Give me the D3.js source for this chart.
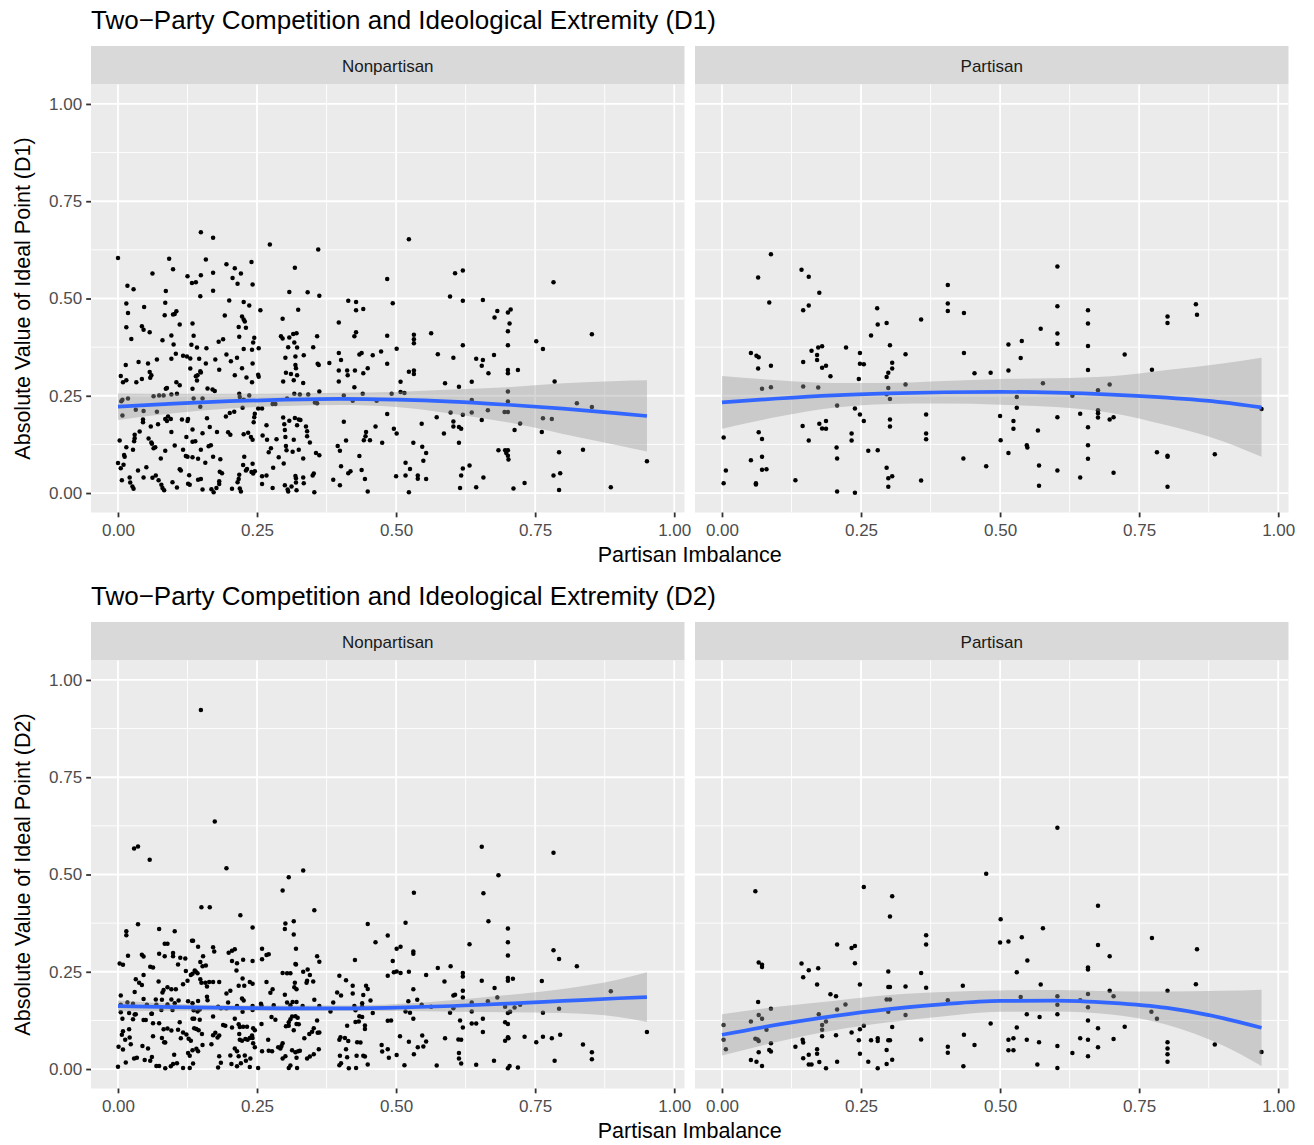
<!DOCTYPE html>
<html>
<head>
<meta charset="utf-8">
<script src="https://cdn.jsdelivr.net/npm/d3@7"></script>
<style>
  body { margin: 0; background: #fff; }
  text { font-family: "Liberation Sans", Arial, sans-serif; }
</style>
</head>
<body>
<svg id="chart" width="1314" height="1145"></svg>
<script>
// DATA: [partisan imbalance, |ideal point|]

const facetNames = ["Nonpartisan", "Partisan"];
const xTicks = [0, 0.25, 0.5, 0.75, 1];
const yTicks = [0, 0.25, 0.5, 0.75, 1];

const d1Nonpartisan = [
  [0.149,0.670],[0.171,0.656],[0.273,0.639],[0.360,0.626],[0,0.604],[0.092,0.602],[0.158,0.600],[0.240,0.594],
  [0.195,0.588],[0.210,0.578],[0.318,0.579],[0.062,0.564],[0.099,0.575],[0.125,0.557],[0.149,0.560],[0.171,0.566],
  [0.206,0.553],[0.221,0.564],[0.133,0.540],[0.140,0.542],[0.215,0.538],[0.242,0.536],[0.484,0.550],[0.017,0.533],
  [0.028,0.524],[0.086,0.519],[0.171,0.520],[0.148,0.506],[0.308,0.517],[0.341,0.516],[0.362,0.507],[0.200,0.495],
  [0.226,0.491],[0.236,0.482],[0.414,0.494],[0.428,0.491],[0.428,0.470],[0.441,0.473],[0.015,0.487],[0.085,0.489],
  [0.047,0.478],[0.018,0.463],[0.099,0.459],[0.105,0.467],[0.102,0.460],[0.084,0.457],[0.256,0.470],[0.324,0.471],
  [0.192,0.456],[0.223,0.454],[0.226,0.446],[0.228,0.441],[0.296,0.448],[0.397,0.438],[0.015,0.426],[0.043,0.429],
  [0.046,0.420],[0.057,0.413],[0.111,0.433],[0.134,0.436],[0.217,0.427],[0.230,0.425],[0.024,0.396],[0.080,0.393],
  [0.096,0.405],[0.136,0.404],[0.181,0.389],[0.189,0.395],[0.218,0.402],[0.245,0.399],[0.243,0.387],[0.293,0.403],
  [0.296,0.397],[0.308,0.400],[0.315,0.409],[0.321,0.411],[0.317,0.387],[0.358,0.403],[0.428,0.413],[0.425,0.403],
  [0.484,0.404],[0.100,0.382],[0.132,0.381],[0.142,0.374],[0.159,0.372],[0.226,0.370],[0.241,0.368],[0.253,0.372],
  [0.306,0.375],[0.322,0.374],[0.351,0.375],[0.397,0.360],[0.401,0.342],[0.434,0.356],[0.438,0.360],[0.458,0.354],
  [0.473,0.364],[0.014,0.329],[0.037,0.337],[0.054,0.333],[0.070,0.343],[0.096,0.345],[0.104,0.358],[0.117,0.353],
  [0.124,0.351],[0.130,0.346],[0.146,0.345],[0.158,0.333],[0.175,0.343],[0.195,0.356],[0.203,0.339],[0.214,0.348],
  [0.223,0.321],[0.242,0.333],[0.301,0.348],[0.319,0.351],[0.319,0.329],[0.320,0.321],[0.334,0.354],[0.359,0.332],
  [0.361,0.329],[0.380,0.334],[0.449,0.321],[0.484,0.332],[0.005,0.301],[0.009,0.285],[0.015,0.290],[0.033,0.285],
  [0.043,0.293],[0.057,0.311],[0.058,0.296],[0.060,0.303],[0.105,0.285],[0.111,0.277],[0.130,0.320],[0.140,0.300],
  [0.143,0.303],[0.148,0.313],[0.149,0.310],[0.142,0.289],[0.182,0.317],[0.210,0.303],[0.231,0.297],[0.241,0.285],
  [0.252,0.304],[0.253,0.299],[0.297,0.287],[0.302,0.309],[0.311,0.306],[0.316,0.290],[0.322,0.303],[0.333,0.283],
  [0.397,0.315],[0.397,0.287],[0.412,0.315],[0.413,0.303],[0.426,0.315],[0.425,0.272],[0.441,0.308],
  [0.006,0.236],[0.008,0.240],[0.018,0.243],[0.064,0.249],[0.074,0.251],[0.082,0.251],[0.086,0.268],[0.088,0.270],
  [0.096,0.253],[0.106,0.255],[0.134,0.268],[0.136,0.243],[0.152,0.243],[0.161,0.269],[0.170,0.266],[0.174,0.262],
  [0.218,0.255],[0.219,0.247],[0.226,0.240],[0.236,0.251],[0.278,0.229],[0.283,0.229],[0.304,0.243],[0.317,0.255],
  [0.327,0.253],[0.342,0.253],[0.354,0.233],[0.358,0.231],[0.362,0.261],[0.406,0.251],[0.422,0.237],[0.440,0.255],
  [0.465,0.237],[0.032,0.214],[0.046,0.211],[0.008,0.199],[0.070,0.209],[0.148,0.222],[0.224,0.219],[0.252,0.217],
  [0.259,0.217],[0.484,0.203],
  [0.003,0.135],[0.000,0.077],[0.005,0.064],[0.010,0.073],[0.011,0.098],[0.012,0.093],[0.015,0.118],[0.007,0.033],
  [0.021,0.040],[0.022,0.027],[0.026,0.017],[0.028,0.011],[0.029,0.133],[0.027,0.111],[0.030,0.150],[0.030,0.141],
  [0.036,0.058],[0.039,0.158],[0.045,0.189],[0.045,0.182],[0.046,0.040],[0.051,0.066],[0.059,0.171],[0.055,0.140],
  [0.060,0.130],[0.061,0.127],[0.064,0.115],[0.067,0.118],[0.062,0.039],[0.068,0.045],[0.073,0.033],[0.072,0.177],
  [0.077,0.089],[0.080,0.013],[0.083,0.007],[0.078,0.021],[0.085,0.190],[0.088,0.185],[0.085,0.109],[0.090,0.197],
  [0.095,0.190],[0.096,0.157],[0.098,0.028],[0.102,0.122],[0.106,0.014],[0.111,0.061],[0.113,0.058],[0.115,0.189],
  [0.117,0.111],[0.123,0.144],[0.122,0.095],[0.125,0.185],[0.126,0.190],[0.125,0.093],[0.126,0.024],[0.128,0.046],
  [0.129,0.021],[0.134,0.132],[0.134,0.163],[0.134,0.092],[0.139,0.133],[0.144,0.088],[0.144,0.034],[0.149,0.036],
  [0.152,0.009],[0.149,0.111],[0.152,0.154],[0.157,0.078],[0.160,0.192],[0.163,0.120],[0.167,0.123],[0.165,0.170],
  [0.171,0.093],[0.172,0.002],[0.178,0.157],[0.183,0.055],[0.184,0.087],[0.187,0.051],[0.182,0.023],[0.182,0.030],
  [0.168,0.010],[0.177,0.013],[0.194,0.197],[0.198,0.156],[0.201,0.206],[0.202,0.150],[0.205,0.011],[0.209,0.209],
  [0.215,0.028],[0.217,0.036],[0.218,0.047],[0.221,0.004],[0.219,0.012],[0.225,0.072],[0.226,0.151],[0.227,0.093],
  [0.230,0.058],[0.232,0.062],[0.234,0.155],[0.239,0.144],[0.242,0.137],[0.244,0.182],[0.245,0.195],[0.246,0.204],
  [0.242,0.075],[0.240,0.054],[0.243,0.050],[0.246,0.056],[0.259,0.023],[0.259,0.043],[0.260,0.148],[0.267,0.174],
  [0.268,0.137],[0.267,0.045],[0.271,0.105],[0.275,0.115],[0.279,0.065],[0.278,0.013],[0.285,0.138],[0.289,0.092],
  [0.297,0.194],[0.298,0.076],[0.299,0.177],[0.300,0.162],[0.301,0.144],[0.302,0.121],[0.303,0.110],[0.300,0.020],
  [0.305,0.009],[0.306,0.004],[0.308,0.186],[0.312,0.017],[0.314,0.106],[0.316,0.137],[0.318,0.193],[0.319,0.044],
  [0.320,0.038],[0.320,0.027],[0.321,0.007],[0.322,0.174],[0.325,0.189],[0.328,0.188],[0.325,0.111],[0.333,0.089],
  [0.333,0.040],[0.334,0.025],[0.338,0.171],[0.340,0.159],[0.340,0.146],[0.345,0.130],[0.350,0.045],[0.352,0.050],
  [0.353,0.002],[0.356,0.103],[0.362,0.097],[0.387,0.034],[0.395,0.121],[0.399,0.109],[0.401,0.069],[0.406,0.183],
  [0.410,0.135],[0.399,0.020],[0.414,0.051],[0.418,0.056],[0.434,0.095],[0.438,0.059],[0.442,0.136],[0.444,0.036],
  [0.445,0.146],[0.446,0.157],[0.449,0.004],[0.453,0.136],[0.463,0.171],[0.475,0.129],
  [0.523,0.652],[0.494,0.488],[0.501,0.371],[0.532,0.407],[0.532,0.395],[0.532,0.385],[0.563,0.411],[0.523,0.312],
  [0.532,0.315],[0.532,0.306],[0.508,0.286],[0.575,0.357],[0.603,0.348],[0.588,0.282],[0.613,0.273],[0.597,0.505],
  [0.606,0.565],[0.620,0.572],[0.620,0.494],[0.656,0.496],[0.620,0.380],[0.636,0.286],[0.644,0.345],[0.656,0.342],
  [0.654,0.327],[0.666,0.308],[0.676,0.355],[0.677,0.451],[0.682,0.468],[0.701,0.464],[0.706,0.472],[0.704,0.436],
  [0.701,0.416],[0.701,0.380],[0.701,0.316],[0.701,0.308],[0.719,0.316],[0.701,0.261],[0.752,0.390],[0.764,0.370],
  [0.783,0.542],[0.785,0.287],[0.852,0.408],[0.492,0.255],[0.508,0.260],[0.515,0.257],[0.636,0.239],[0.701,0.235],
  [0.665,0.213],[0.695,0.208],[0.701,0.208],[0.825,0.231],[0.852,0.221],
  [0.496,0.165],[0.501,0.153],[0.531,0.129],[0.546,0.178],[0.573,0.195],[0.598,0.207],[0.603,0.184],[0.603,0.171],
  [0.613,0.170],[0.617,0.165],[0.620,0.201],[0.586,0.153],[0.636,0.207],[0.654,0.188],[0.613,0.129],[0.547,0.119],
  [0.554,0.103],[0.549,0.083],[0.517,0.078],[0.525,0.062],[0.500,0.043],[0.517,0.045],[0.539,0.045],[0.539,0.037],
  [0.554,0.036],[0.523,0.002],[0.620,0.063],[0.632,0.071],[0.617,0.045],[0.615,0.013],[0.644,0.015],[0.657,0.040],
  [0.684,0.110],[0.696,0.110],[0.701,0.110],[0.698,0.103],[0.701,0.096],[0.702,0.086],[0.711,0.012],[0.731,0.026],
  [0.713,0.162],[0.723,0.179],[0.764,0.192],[0.780,0.190],[0.762,0.157],[0.793,0.105],[0.783,0.045],[0.795,0.051],
  [0.793,0.008],[0.836,0.111],[0.886,0.015],[0.951,0.082]
];

const d1Partisan = [
  [0.088,0.614],[0.065,0.554],[0.085,0.490],[0.143,0.574],[0.156,0.556],[0.175,0.515],[0.146,0.470],[0.156,0.482],
  [0.052,0.360],[0.062,0.353],[0.066,0.349],[0.065,0.320],[0.088,0.327],[0.072,0.268],[0.088,0.272],[0.146,0.337],
  [0.161,0.366],[0.171,0.355],[0.171,0.342],[0.173,0.374],[0.180,0.377],[0.180,0.322],[0.187,0.327],[0.195,0.300],
  [0.146,0.274],[0.173,0.271],[0.223,0.374],[0.248,0.360],[0.248,0.332],[0.255,0.331],[0.246,0.293],[0.268,0.405],
  [0.279,0.475],[0.280,0.433],[0.296,0.437],[0.302,0.380],[0.306,0.335],[0.306,0.320],[0.299,0.309],[0.296,0.298],
  [0.299,0.270],[0.296,0.254],[0.302,0.242],[0.330,0.357],[0.330,0.279],[0.358,0.446],[0.406,0.535],[0.406,0.487],
  [0.406,0.468],[0.435,0.463],[0.435,0.360],[0.454,0.308],[0.483,0.309],[0.515,0.382],[0.515,0.315],[0.539,0.391],
  [0.537,0.347],[0.573,0.422],[0.577,0.282],[0.603,0.582],[0.603,0.480],[0.603,0.410],[0.603,0.384],[0.630,0.250],
  [0.658,0.470],[0.658,0.436],[0.658,0.378],[0.658,0.316],[0.676,0.264],[0.697,0.279],[0.724,0.356],[0.773,0.317],
  [0.801,0.454],[0.801,0.437],[0.852,0.485],[0.854,0.458],[0.970,0.216],[0.530,0.247],
  [0.003,0.143],[0.007,0.058],[0.003,0.025],[0.066,0.156],[0.072,0.139],[0.052,0.084],[0.072,0.093],[0.072,0.060],
  [0.080,0.061],[0.061,0.025],[0.061,0.022],[0.132,0.033],[0.145,0.172],[0.156,0.135],[0.175,0.178],[0.180,0.166],
  [0.187,0.165],[0.187,0.185],[0.207,0.225],[0.206,0.117],[0.207,0.089],[0.207,0.004],[0.233,0.153],[0.233,0.135],
  [0.239,0.217],[0.248,0.202],[0.255,0.185],[0.239,0.001],[0.263,0.109],[0.280,0.110],[0.296,0.065],[0.299,0.038],
  [0.306,0.043],[0.299,0.016],[0.302,0.189],[0.302,0.171],[0.367,0.202],[0.367,0.153],[0.367,0.138],[0.358,0.032],
  [0.434,0.089],[0.475,0.069],[0.500,0.198],[0.501,0.136],[0.515,0.103],[0.524,0.185],[0.524,0.165],[0.530,0.219],
  [0.548,0.123],[0.549,0.117],[0.568,0.161],[0.570,0.071],[0.570,0.019],[0.603,0.195],[0.603,0.058],[0.644,0.204],
  [0.644,0.040],[0.658,0.169],[0.658,0.123],[0.658,0.088],[0.676,0.213],[0.676,0.205],[0.676,0.194],[0.697,0.189],
  [0.704,0.195],[0.704,0.052],[0.782,0.105],[0.801,0.096],[0.801,0.093],[0.801,0.016],[0.886,0.100]
];

const d2Nonpartisan = [
  [0.149,0.923],[0.174,0.636],[0.029,0.567],[0.036,0.572],[0.057,0.538],[0.195,0.516],[0.150,0.416],[0.165,0.416],
  [0.220,0.395],[0.242,0.364],[0.296,0.459],[0.307,0.493],[0.333,0.510],[0.353,0.408],[0.301,0.374],[0.316,0.380],
  [0.300,0.360],[0.316,0.346],[0.449,0.373],[0.463,0.326],[0.485,0.343],[0.015,0.354],[0.015,0.344],[0.036,0.372],
  [0.074,0.360],[0.102,0.354],[0.084,0.322],[0.089,0.322],[0.133,0.330],[0.135,0.330],[0.144,0.314],[0.171,0.313],
  [0.173,0.302],[0.018,0.291],[0.043,0.294],[0.046,0.289],[0.003,0.271],[0.009,0.268],[0.074,0.296],[0.084,0.290],
  [0.099,0.298],[0.099,0.290],[0.112,0.286],[0.121,0.284],[0.108,0.269],[0.058,0.263],[0.063,0.261],[0.153,0.290],
  [0.158,0.266],[0.138,0.253],[0.143,0.246],[0.122,0.252],[0.199,0.299],[0.205,0.304],[0.210,0.308],[0.205,0.278],
  [0.214,0.272],[0.225,0.281],[0.242,0.278],[0.213,0.253],[0.259,0.309],[0.259,0.282],[0.267,0.293],[0.271,0.295],
  [0.320,0.309],[0.320,0.269],[0.358,0.290],[0.362,0.276],[0.426,0.280],[0.032,0.231],[0.038,0.222],[0.043,0.216],
  [0.046,0.242],[0.030,0.198],[0.073,0.225],[0.080,0.197],[0.082,0.203],[0.089,0.210],[0.096,0.205],[0.104,0.205],
  [0.131,0.242],[0.134,0.245],[0.140,0.250],[0.148,0.275],[0.152,0.264],[0.125,0.227],[0.148,0.231],[0.150,0.222],
  [0.157,0.222],[0.160,0.212],[0.164,0.224],[0.171,0.224],[0.182,0.224],[0.160,0.186],[0.161,0.177],[0.117,0.218],
  [0.096,0.179],[0.109,0.176],[0.195,0.194],[0.202,0.201],[0.224,0.233],[0.227,0.214],[0.217,0.214],[0.237,0.224],
  [0.242,0.219],[0.223,0.181],[0.226,0.176],[0.267,0.224],[0.274,0.196],[0.278,0.205],[0.296,0.247],[0.304,0.246],
  [0.310,0.246],[0.300,0.191],[0.318,0.222],[0.317,0.210],[0.321,0.205],[0.319,0.270],[0.333,0.250],[0.341,0.256],
  [0.345,0.242],[0.339,0.222],[0.340,0.227],[0.351,0.225],[0.353,0.178],[0.398,0.240],[0.410,0.228],[0.422,0.214],
  [0.422,0.194],[0.394,0.197],[0.401,0.189],[0.446,0.214],[0.449,0.206],[0.441,0.190],[0.454,0.176],[0.485,0.240],
  [0.005,0.189],[0.005,0.165],[0.005,0.146],[0.008,0.129],[0.017,0.171],[0.027,0.168],[0.020,0.144],[0.032,0.141],
  [0.046,0.180],[0.052,0.165],[0.060,0.142],[0.068,0.179],[0.069,0.165],[0.079,0.178],[0.089,0.166],[0.078,0.152],
  [0.098,0.152],[0.102,0.169],[0.126,0.174],[0.134,0.169],[0.144,0.175],[0.147,0.153],[0.136,0.151],[0.143,0.148],
  [0.171,0.135],[0.180,0.160],[0.185,0.156],[0.195,0.156],[0.198,0.171],[0.214,0.162],[0.224,0.147],[0.242,0.152],
  [0.242,0.162],[0.257,0.168],[0.258,0.163],[0.280,0.164],[0.304,0.171],[0.314,0.172],[0.321,0.172],[0.310,0.164],
  [0.332,0.162],[0.362,0.162],[0.387,0.171],[0.382,0.148],[0.425,0.162],[0.427,0.151],[0.439,0.169],[0.439,0.160],
  [0.458,0.144],[0.485,0.124],
  [0.007,0.088],[0.009,0.097],[0.013,0.075],[0.020,0.102],[0.021,0.081],[0.023,0.064],[0.001,0.057],[0.009,0.050],
  [0.014,0.017],[0.000,0.006],[0.027,0.128],[0.030,0.140],[0.046,0.126],[0.050,0.126],[0.063,0.118],[0.061,0.142],
  [0.074,0.118],[0.082,0.102],[0.089,0.104],[0.079,0.080],[0.083,0.069],[0.085,0.068],[0.063,0.084],[0.044,0.059],
  [0.054,0.053],[0.048,0.023],[0.061,0.031],[0.058,0.021],[0.029,0.027],[0.034,0.029],[0.069,0.008],[0.074,0.008],
  [0.085,0.002],[0.095,0.007],[0.099,0.013],[0.106,0.015],[0.101,0.037],[0.096,0.099],[0.108,0.101],[0.111,0.120],
  [0.117,0.094],[0.113,0.079],[0.117,0.003],[0.129,0.003],[0.123,0.089],[0.127,0.078],[0.131,0.073],[0.126,0.041],
  [0.129,0.034],[0.135,0.014],[0.134,0.129],[0.137,0.129],[0.137,0.105],[0.141,0.103],[0.145,0.100],[0.147,0.127],
  [0.151,0.090],[0.134,0.048],[0.141,0.052],[0.144,0.046],[0.152,0.062],[0.171,0.087],[0.175,0.093],[0.179,0.081],
  [0.182,0.086],[0.168,0.064],[0.182,0.033],[0.180,0.004],[0.185,0.016],[0.189,0.113],[0.193,0.111],[0.205,0.107],
  [0.210,0.129],[0.217,0.115],[0.219,0.108],[0.225,0.109],[0.232,0.109],[0.218,0.090],[0.219,0.075],[0.223,0.073],
  [0.229,0.077],[0.233,0.075],[0.237,0.080],[0.241,0.086],[0.242,0.080],[0.243,0.066],[0.246,0.056],[0.243,0.105],
  [0.246,0.100],[0.210,0.053],[0.214,0.046],[0.217,0.033],[0.202,0.035],[0.204,0.013],[0.214,0.007],[0.221,0.015],
  [0.228,0.035],[0.230,0.021],[0.237,0.005],[0.238,0.027],[0.252,0.003],[0.258,0.116],[0.259,0.046],[0.270,0.075],
  [0.271,0.047],[0.277,0.046],[0.276,0.134],[0.283,0.127],[0.288,0.056],[0.292,0.053],[0.296,0.066],[0.294,0.059],
  [0.296,0.027],[0.301,0.033],[0.307,0.003],[0.310,0.009],[0.302,0.110],[0.307,0.111],[0.307,0.120],[0.310,0.128],
  [0.313,0.135],[0.319,0.136],[0.323,0.132],[0.316,0.100],[0.321,0.116],[0.325,0.115],[0.313,0.048],[0.319,0.043],
  [0.324,0.046],[0.327,0.047],[0.321,0.029],[0.322,0.003],[0.335,0.079],[0.340,0.027],[0.345,0.032],[0.344,0.090],
  [0.349,0.096],[0.352,0.105],[0.358,0.125],[0.359,0.093],[0.362,0.094],[0.352,0.038],[0.361,0.051],[0.398,0.075],
  [0.400,0.082],[0.399,0.034],[0.398,0.010],[0.401,0.015],[0.408,0.080],[0.414,0.072],[0.410,0.051],[0.412,0.111],
  [0.412,0.030],[0.415,0.002],[0.427,0.121],[0.428,0.003],[0.429,0.034],[0.430,0.069],[0.436,0.068],[0.433,0.122],
  [0.434,0.136],[0.439,0.134],[0.444,0.112],[0.444,0.103],[0.441,0.034],[0.444,0.032],[0.449,0.012],[0.474,0.062],
  [0.475,0.045],[0.485,0.051],[0.487,0.029],
  [0.654,0.571],[0.783,0.556],[0.684,0.498],[0.532,0.453],[0.657,0.452],[0.517,0.376],[0.666,0.380],[0.701,0.361],
  [0.701,0.326],[0.632,0.321],[0.701,0.292],[0.783,0.305],[0.793,0.283],[0.825,0.264],[0.494,0.278],[0.501,0.309],
  [0.508,0.314],[0.531,0.302],[0.531,0.296],[0.496,0.249],[0.501,0.251],[0.508,0.247],[0.523,0.250],[0.554,0.242],
  [0.575,0.260],[0.598,0.264],[0.587,0.225],[0.620,0.247],[0.620,0.238],[0.654,0.227],[0.677,0.208],[0.701,0.234],
  [0.701,0.227],[0.710,0.232],[0.762,0.226],[0.886,0.200],[0.531,0.205],[0.538,0.178],[0.522,0.174],[0.546,0.165],
  [0.563,0.160],[0.517,0.148],[0.525,0.145],[0.603,0.189],[0.606,0.191],[0.620,0.201],[0.620,0.184],[0.603,0.156],
  [0.597,0.145],[0.636,0.171],[0.636,0.148],[0.665,0.174],[0.682,0.184],[0.696,0.160],[0.713,0.158],[0.723,0.165],
  [0.701,0.144],[0.705,0.147],[0.764,0.145],[0.793,0.155],[0.491,0.125],[0.531,0.129],[0.615,0.125],[0.620,0.107],
  [0.636,0.117],[0.644,0.117],[0.656,0.129],[0.656,0.095],[0.696,0.120],[0.701,0.116],[0.507,0.084],[0.523,0.070],
  [0.547,0.086],[0.554,0.071],[0.539,0.056],[0.549,0.058],[0.501,0.036],[0.515,0.010],[0.532,0.038],[0.573,0.009],
  [0.588,0.079],[0.612,0.076],[0.617,0.075],[0.613,0.041],[0.613,0.027],[0.617,0.014],[0.644,0.011],[0.676,0.021],
  [0.696,0.073],[0.701,0.082],[0.702,0.079],[0.701,0.002],[0.704,0.008],[0.719,0.004],[0.731,0.083],[0.752,0.069],
  [0.764,0.083],[0.780,0.079],[0.795,0.088],[0.785,0.021],[0.836,0.063],[0.852,0.043],[0.852,0.025],[0.951,0.095]
];

const d2Partisan = [
  [0.603,0.620],[0.475,0.502],[0.060,0.457],[0.255,0.468],[0.306,0.444],[0.302,0.392],[0.676,0.420],[0.501,0.385],
  [0.515,0.328],[0.500,0.325],[0.539,0.339],[0.577,0.362],[0.367,0.344],[0.367,0.320],[0.207,0.320],[0.233,0.311],
  [0.239,0.316],[0.676,0.319],[0.697,0.290],[0.773,0.337],[0.854,0.308],[0.066,0.274],[0.072,0.268],[0.072,0.262],
  [0.143,0.271],[0.156,0.254],[0.173,0.259],[0.146,0.236],[0.239,0.272],[0.299,0.251],[0.358,0.247],[0.549,0.279],
  [0.530,0.249],[0.658,0.261],[0.658,0.256],[0.171,0.217],[0.248,0.217],[0.195,0.192],[0.205,0.187],[0.299,0.211],
  [0.302,0.211],[0.330,0.212],[0.367,0.209],[0.433,0.214],[0.573,0.217],[0.852,0.218],[0.801,0.201],[0.697,0.201],
  [0.704,0.187],[0.065,0.172],[0.088,0.155],[0.222,0.166],[0.207,0.153],[0.296,0.179],[0.302,0.179],[0.299,0.147],
  [0.406,0.177],[0.537,0.185],[0.603,0.187],[0.603,0.165],[0.603,0.141],[0.644,0.177],[0.658,0.193],[0.658,0.159],
  [0.772,0.147],[0.782,0.129],[0.330,0.139],[0.548,0.141],[0.571,0.134],[0.066,0.139],[0.072,0.129],[0.052,0.122],
  [0.003,0.113],[0.080,0.101],[0.180,0.113],[0.187,0.122],[0.174,0.141],[0.180,0.101],[0.248,0.102],[0.233,0.094],
  [0.255,0.111],[0.306,0.108],[0.483,0.117],[0.530,0.107],[0.658,0.125],[0.676,0.105],[0.724,0.109],
  [0.003,0.075],[0.007,0.051],[0.060,0.078],[0.064,0.076],[0.066,0.072],[0.088,0.066],[0.085,0.049],[0.088,0.045],
  [0.066,0.043],[0.052,0.023],[0.062,0.019],[0.072,0.008],[0.132,0.057],[0.145,0.075],[0.146,0.068],[0.146,0.028],
  [0.156,0.037],[0.156,0.012],[0.161,0.012],[0.171,0.051],[0.171,0.039],[0.175,0.018],[0.180,0.084],[0.187,0.002],
  [0.205,0.087],[0.207,0.019],[0.246,0.074],[0.248,0.039],[0.263,0.019],[0.268,0.074],[0.280,0.079],[0.280,0.072],
  [0.280,0.002],[0.296,0.013],[0.296,0.049],[0.299,0.074],[0.302,0.074],[0.306,0.024],[0.358,0.076],[0.406,0.057],
  [0.406,0.042],[0.434,0.007],[0.435,0.088],[0.454,0.062],[0.515,0.075],[0.524,0.079],[0.515,0.048],[0.524,0.048],
  [0.548,0.075],[0.570,0.069],[0.567,0.012],[0.603,0.059],[0.603,0.003],[0.630,0.041],[0.644,0.079],[0.658,0.075],
  [0.658,0.033],[0.676,0.056],[0.704,0.077],[0.801,0.069],[0.801,0.053],[0.801,0.038],[0.801,0.019],[0.886,0.063],
  [0.970,0.044]
];

// geom_smooth: fitted line and confidence band, read at these x positions
const smoothXNonpartisan = [0, 0.1, 0.2, 0.3, 0.4, 0.5, 0.6, 0.7, 0.8, 0.9, 0.951];
const smoothXPartisan    = [0, 0.1, 0.2, 0.3, 0.4, 0.5, 0.6, 0.7, 0.8, 0.9, 0.97];

const d1NonpartisanFit = [0.222, 0.230, 0.236, 0.240, 0.242, 0.240, 0.235, 0.227, 0.217, 0.205, 0.198];
const d1NonpartisanLo  = [0.188, 0.205, 0.217, 0.224, 0.226, 0.221, 0.204, 0.182, 0.152, 0.122, 0.107];
const d1NonpartisanHi  = [0.256, 0.255, 0.255, 0.256, 0.258, 0.260, 0.266, 0.272, 0.282, 0.288, 0.290];

const d1PartisanFit = [0.233, 0.243, 0.251, 0.256, 0.259, 0.260, 0.258, 0.253, 0.245, 0.233, 0.220];
const d1PartisanLo  = [0.165, 0.196, 0.219, 0.229, 0.230, 0.227, 0.221, 0.206, 0.174, 0.133, 0.093];
const d1PartisanHi  = [0.301, 0.290, 0.283, 0.283, 0.288, 0.293, 0.295, 0.300, 0.316, 0.333, 0.348];

const d2NonpartisanFit = [0.162, 0.159, 0.157, 0.156, 0.156, 0.158, 0.162, 0.168, 0.175, 0.182, 0.185];
const d2NonpartisanLo  = [0.148, 0.150, 0.150, 0.149, 0.149, 0.149, 0.147, 0.146, 0.144, 0.134, 0.121];
const d2NonpartisanHi  = [0.176, 0.168, 0.164, 0.163, 0.163, 0.167, 0.177, 0.190, 0.206, 0.230, 0.249];

const d2PartisanFit = [0.088, 0.114, 0.136, 0.154, 0.167, 0.175, 0.176, 0.170, 0.157, 0.131, 0.106];
const d2PartisanLo  = [0.035, 0.070, 0.099, 0.120, 0.136, 0.147, 0.148, 0.140, 0.114, 0.061, 0.008];
const d2PartisanHi  = [0.141, 0.160, 0.175, 0.190, 0.198, 0.202, 0.203, 0.200, 0.199, 0.201, 0.204];

// SETUP
const svg = d3.select("#chart");
const panelLeft = [91, 695],
      panelWidth = 593.5;
const xDomain = [-0.0485, 1.0185],
      yDomain = [-0.05, 1.05];

function smoothRows(xs, fit, lo, hi) {
  return xs.map((x, i) => ({ x, fit: fit[i], lo: lo[i], hi: hi[i] }));
}

function drawPlot(offsetY, title, yTitle, panels) {
  const g = svg.append("g").attr("transform", `translate(0,${offsetY})`);
  const top = 84.5, bottom = 512.5;

  const y = d3.scaleLinear().domain(yDomain).range([bottom, top]);

  // title
  g.append("text")
    .attr("x", 91).attr("y", 29)
    .attr("font-size", 26).attr("fill", "#000")
    .text(title);

  panels.forEach((p, i) => {
    const left = panelLeft[i];
    const x = d3.scaleLinear().domain(xDomain).range([left, left + panelWidth]);

    // strip
    g.append("rect")
      .attr("x", left).attr("y", 46)
      .attr("width", panelWidth).attr("height", top - 46)
      .attr("fill", "#D9D9D9");
    g.append("text")
      .attr("x", left + panelWidth / 2).attr("y", 71.5)
      .attr("text-anchor", "middle")
      .attr("font-size", 17).attr("fill", "#1A1A1A")
      .text(facetNames[i]);

    // panel background
    g.append("rect")
      .attr("x", left).attr("y", top)
      .attr("width", panelWidth).attr("height", bottom - top)
      .attr("fill", "#EBEBEB");

    // grid: minor then major
    const minor = [0.125, 0.375, 0.625, 0.875];
    const grid = g.append("g");
    minor.forEach(v => {
      grid.append("line").attr("x1", x(v)).attr("x2", x(v)).attr("y1", top).attr("y2", bottom)
        .attr("stroke", "#fff").attr("stroke-width", 0.9);
      grid.append("line").attr("x1", left).attr("x2", left + panelWidth).attr("y1", y(v)).attr("y2", y(v))
        .attr("stroke", "#fff").attr("stroke-width", 0.9);
    });
    xTicks.forEach(v => {
      grid.append("line").attr("x1", x(v)).attr("x2", x(v)).attr("y1", top).attr("y2", bottom)
        .attr("stroke", "#fff").attr("stroke-width", 1.8);
    });
    yTicks.forEach(v => {
      grid.append("line").attr("x1", left).attr("x2", left + panelWidth).attr("y1", y(v)).attr("y2", y(v))
        .attr("stroke", "#fff").attr("stroke-width", 1.8);
    });

    // points
    g.append("g").selectAll("circle")
      .data(p.points)
      .enter()
      .append("circle")
      .attr("cx", d => x(d[0]))
      .attr("cy", d => y(d[1]))
      .attr("r", 2.25)
      .attr("fill", "#000");

    // confidence band + fitted line
    const rows = smoothRows(p.smoothX, p.fit, p.lo, p.hi);
    g.append("path")
      .datum(rows)
      .attr("d", d3.area().x(d => x(d.x)).y0(d => y(d.lo)).y1(d => y(d.hi)).curve(d3.curveMonotoneX))
      .attr("fill", "#999999").attr("fill-opacity", 0.4);
    g.append("path")
      .datum(rows)
      .attr("d", d3.line().x(d => x(d.x)).y(d => y(d.fit)).curve(d3.curveMonotoneX))
      .attr("fill", "none").attr("stroke", "#3366FF").attr("stroke-width", 3.7);

    // x axis
    const xAxis = g.append("g")
      .attr("transform", `translate(0,${bottom})`)
      .call(d3.axisBottom(x).tickValues(xTicks).tickFormat(d3.format(".2f")).tickSize(4.8).tickPadding(6.5));
    xAxis.select(".domain").remove();
    xAxis.selectAll("line").attr("stroke", "#333333").attr("stroke-width", 1.8);
    xAxis.selectAll("text").attr("font-size", 17).attr("fill", "#4D4D4D")
      .attr("font-family", "Liberation Sans, Arial, sans-serif");

    // y axis only on first panel
    if (i === 0) {
      const yAxis = g.append("g")
        .attr("transform", `translate(${left},0)`)
        .call(d3.axisLeft(y).tickValues(yTicks).tickFormat(d3.format(".2f")).tickSize(4.8).tickPadding(4));
      yAxis.select(".domain").remove();
      yAxis.selectAll("line").attr("stroke", "#333333").attr("stroke-width", 1.8);
      yAxis.selectAll("text").attr("font-size", 17).attr("fill", "#4D4D4D")
        .attr("font-family", "Liberation Sans, Arial, sans-serif");
    }
  });

  // axis titles
  g.append("text")
    .attr("x", (panelLeft[0] + panelLeft[1] + panelWidth) / 2)
    .attr("y", 562)
    .attr("text-anchor", "middle")
    .attr("font-size", 21.5).attr("fill", "#000")
    .text("Partisan Imbalance");

  g.append("text")
    .attr("transform", `translate(30,${(top + bottom) / 2}) rotate(-90)`)
    .attr("text-anchor", "middle")
    .attr("font-size", 21.5).attr("fill", "#000")
    .text(yTitle);
}

drawPlot(0, "Two\u2212Party Competition and Ideological Extremity (D1)", "Absolute Value of Ideal Point (D1)", [
  { points: d1Nonpartisan, smoothX: smoothXNonpartisan, fit: d1NonpartisanFit, lo: d1NonpartisanLo, hi: d1NonpartisanHi },
  { points: d1Partisan, smoothX: smoothXPartisan, fit: d1PartisanFit, lo: d1PartisanLo, hi: d1PartisanHi }
]);

drawPlot(576, "Two\u2212Party Competition and Ideological Extremity (D2)", "Absolute Value of Ideal Point (D2)", [
  { points: d2Nonpartisan, smoothX: smoothXNonpartisan, fit: d2NonpartisanFit, lo: d2NonpartisanLo, hi: d2NonpartisanHi },
  { points: d2Partisan, smoothX: smoothXPartisan, fit: d2PartisanFit, lo: d2PartisanLo, hi: d2PartisanHi }
]);
</script>
</body>
</html>
